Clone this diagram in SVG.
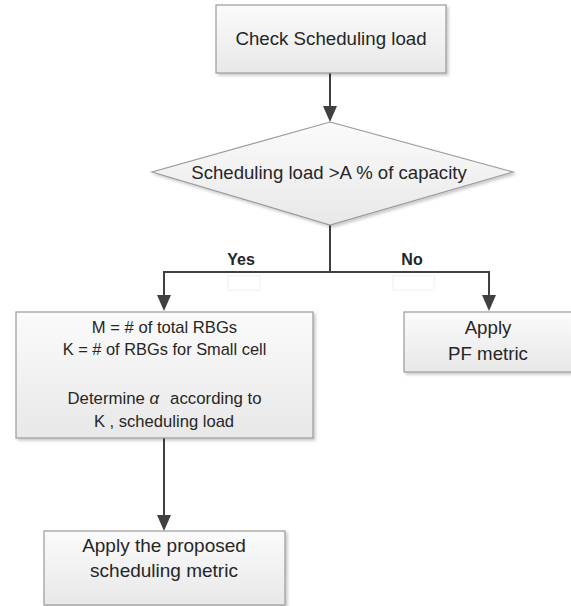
<svg xmlns="http://www.w3.org/2000/svg" width="571" height="606" viewBox="0 0 571 606">
  <style>
    .box { fill: url(#g); stroke: #9a9a9a; stroke-width: 1.2; filter: url(#sh); }
    .t { font-family: "Liberation Sans", Arial, sans-serif; fill: #262626; text-anchor: middle; }
    .lbl { font-family: "Liberation Sans", Arial, sans-serif; fill: #262626; text-anchor: middle; font-weight: bold; font-size: 16px; }
    .c { fill: none; stroke: #404040; stroke-width: 2; }
    .ghost { fill: #ffffff; stroke: #f0f0f0; stroke-width: 1; }
  </style>
  <defs>
    <linearGradient id="g" x1="0" y1="0" x2="0" y2="1">
      <stop offset="0" stop-color="#fbfbfb"/>
      <stop offset="1" stop-color="#e8e8e8"/>
    </linearGradient>
    <filter id="sh" x="-10%" y="-10%" width="130%" height="140%">
      <feDropShadow dx="2" dy="2" stdDeviation="1.5" flood-color="#000" flood-opacity="0.22"/>
    </filter>
    <marker id="arr" markerUnits="userSpaceOnUse" markerWidth="16" markerHeight="14" refX="8" refY="7" orient="auto">
      <path d="M0,0 L16,7 L0,14 z" fill="#404040"/>
    </marker>
  </defs>

  <rect width="571" height="606" fill="#ffffff"/>

  <g id="connectors">
    <path class="c" d="M330,73 V114" marker-end="url(#arr)"/>
    <path class="c" d="M330,225 V272"/>
    <path class="c" d="M330,272 H164 V303" marker-end="url(#arr)"/>
    <path class="c" d="M330,272 H489 V303" marker-end="url(#arr)"/>
    <path class="c" d="M164,438 V523" marker-end="url(#arr)"/>
    <rect class="ghost" x="228" y="276" width="32" height="14"/>
    <rect class="ghost" x="393" y="276" width="41" height="14"/>
    <text class="lbl" x="241" y="265">Yes</text>
    <text class="lbl" x="412" y="265">No</text>
  </g>

  <g id="check">
    <rect class="box" x="216" y="5" width="230" height="68"/>
    <text class="t" x="331" y="45" font-size="18.7">Check Scheduling load</text>
  </g>

  <g id="decision">
    <polygon class="box" points="330,122 513,172 330,225 152,172"/>
    <text class="t" x="329" y="179" font-size="18.6">Scheduling load &gt;A % of capacity</text>
  </g>

  <g id="yes-box">
    <rect class="box" x="16" y="312" width="297" height="126"/>
    <text class="t" x="164.5" y="333" font-size="16.6">M = # of total RBGs</text>
    <text class="t" x="164.5" y="355" font-size="16.4">K = # of RBGs for Small cell</text>
    <text class="t" x="164.5" y="404" font-size="16.8">Determine <tspan font-style="italic">α</tspan><tspan dx="11">according to</tspan></text>
    <text class="t" x="164" y="427" font-size="16.6">K , scheduling load</text>
  </g>

  <g id="no-box">
    <rect class="box" x="404" y="312" width="172" height="60"/>
    <text class="t" x="488" y="334" font-size="18.7">Apply</text>
    <text class="t" x="488" y="360" font-size="18.7">PF metric</text>
  </g>

  <g id="apply-box">
    <rect class="box" x="44" y="531" width="241" height="74"/>
    <text class="t" x="164" y="552" font-size="19">Apply the proposed</text>
    <text class="t" x="164" y="577" font-size="19">scheduling metric</text>
  </g>
</svg>
